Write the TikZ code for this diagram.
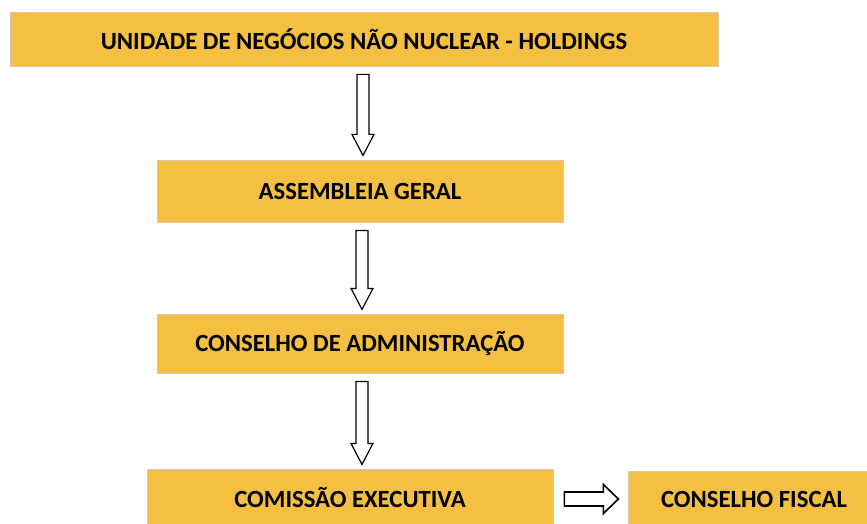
\documentclass[tikz,border=0pt]{standalone}
\usepackage{fontspec}
\setmainfont{Carlito}
\usetikzlibrary{calc}
\definecolor{boxfill}{RGB}{245,192,66}
\definecolor{boxline}{RGB}{215,200,175}
\tikzset{
  orgbox/.style={draw=boxline, line width=0.8pt, fill=boxfill, inner sep=0pt,
    font=\fontsize{24.7}{29}\selectfont\bfseries, text=black},
  blk/.style={draw=black, line width=1.2pt, fill=white, line join=miter},
  blkh/.style={blk, line width=1.6pt},
  pics/downarrow/.style={code={
    \draw[blk] (-6,0) -- (6,0) -- (6,#1-21) -- (11,#1-21) -- (0,#1) -- (-11,#1-21) -- (-6,#1-21) -- cycle;}},
  pics/rightarrow/.style={code={
    \draw[blkh] (0,-7) -- (#1-15,-7) -- (#1-15,-14.5) -- (#1,0) -- (#1-15,14.5) -- (#1-15,7) -- (0,7) -- cycle;}},
}
\begin{document}
\begin{tikzpicture}[x=1pt,y=-1pt]
\useasboundingbox (0,0) rectangle (867,524);
\clip (0,0) rectangle (867,524);
\fill[white] (0,0) rectangle (867,524);
\node[orgbox, minimum width=708pt, minimum height=54pt] (b1) at (364,39) {UNIDADE DE NEGÓCIOS NÃO NUCLEAR - HOLDINGS};
\node[orgbox, minimum width=406pt, minimum height=62pt] (b2) at (360,191) {ASSEMBLEIA GERAL};
\node[orgbox, minimum width=406pt, minimum height=59pt] (b3) at (360,343.5) {CONSELHO DE ADMINISTRAÇÃO};
\node[orgbox, minimum width=406pt, minimum height=58pt] (b4) at (350,498) {COMISSÃO EXECUTIVA};
\node[orgbox, minimum width=252pt, minimum height=57pt] (b5) at (754,499.5) {CONSELHO FISCAL};
\pic at ($(b1.south)+(-1,8)$) {downarrow=81};
\pic at ($(b2.south)+(2,8)$) {downarrow=79};
\pic at ($(b3.south)+(2,8)$) {downarrow=83};
\pic at ($(b4.east)+(11,1)$) {rightarrow=54};
\end{tikzpicture}
\end{document}
